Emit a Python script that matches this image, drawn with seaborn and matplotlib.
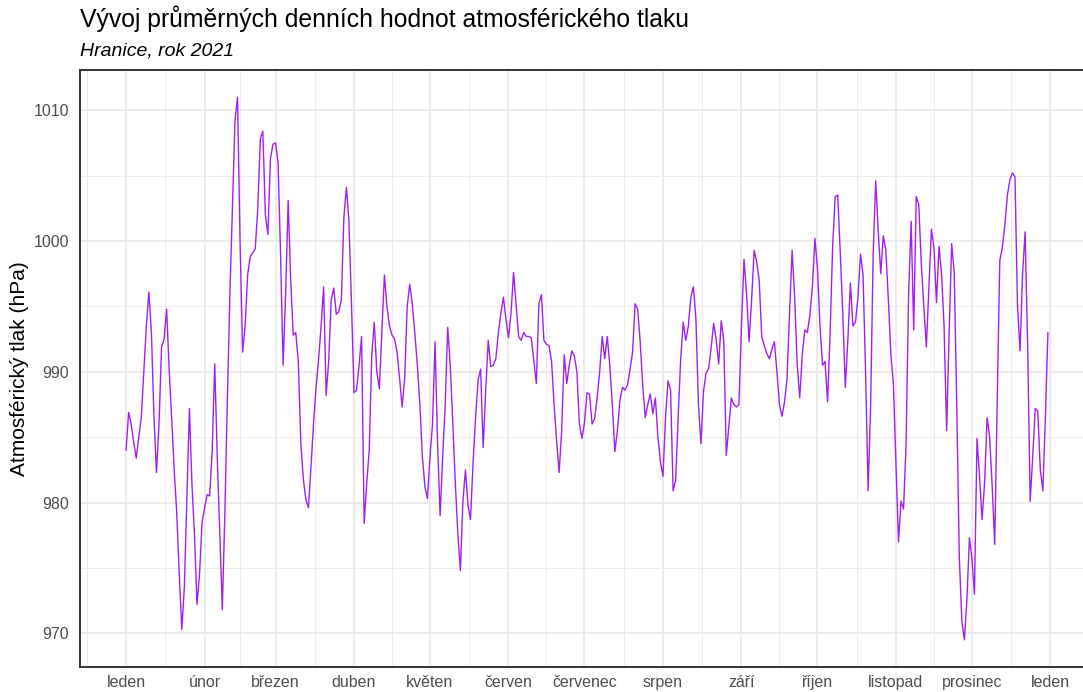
import matplotlib
matplotlib.use("Agg")
import matplotlib.pyplot as plt
import matplotlib.dates as mdates
import numpy as np
import pandas as pd
import seaborn as sns

# denni prumery tlaku (hPa), Hranice 2021, po mesicich
leden = [984.0, 986.9, 986.0, 984.6, 983.4, 985.0, 986.5, 990.0, 993.5, 996.1,
         993.0, 986.6, 982.3, 986.0, 991.9, 992.5, 994.8, 990.2, 986.5, 982.5,
         979.2, 974.5, 970.3, 973.5, 980.5, 987.2, 981.4, 977.6, 972.2, 974.5,
         978.5]
unor = [979.6, 980.6, 980.5, 984.0, 990.6, 983.5, 977.6, 971.8, 979.2, 988.0,
        996.0, 1002.5, 1009.2, 1011.0, 1000.0, 991.5, 993.5, 997.4, 998.8, 999.1,
        999.4, 1002.5, 1007.8, 1008.4, 1002.0, 1000.5, 1006.3, 1007.4]
brezen = [1007.5, 1006.0, 999.0, 990.5, 996.0, 1003.1, 997.0, 992.8, 993.0, 990.8,
          984.5, 981.8, 980.2, 979.6, 982.7, 986.0, 988.8, 990.9, 993.5, 996.5,
          988.2, 990.8, 995.5, 996.4, 994.4, 994.6, 995.5, 1001.8, 1004.1, 1001.5,
          995.2]
duben = [988.4, 988.6, 990.5, 992.7, 978.4, 981.4, 984.0, 991.2, 993.8, 990.0,
         988.7, 993.0, 997.4, 995.0, 993.5, 992.8, 992.5, 991.5, 989.5, 987.3,
         989.5, 995.0, 996.7, 995.2, 993.0, 990.5, 987.5, 983.5, 981.2, 980.3]
kveten = [983.5, 986.0, 992.3, 984.5, 979.0, 983.4, 987.5, 993.4, 990.5, 986.1,
          981.5, 977.6, 974.8, 980.1, 982.5, 979.8, 978.7, 983.0, 986.5, 989.4,
          990.2, 984.2, 988.6, 992.4, 990.4, 990.5, 991.0, 993.0, 994.5, 995.7,
          994.0]
cerven = [992.6, 994.5, 997.6, 995.2, 992.7, 992.4, 993.0, 992.7, 992.7, 992.6,
          990.8, 989.1, 995.2, 995.9, 992.4, 992.1, 992.0, 990.8, 987.5, 984.7,
          982.3, 985.5, 991.3, 989.1, 990.5, 991.6, 991.2, 990.0, 986.0, 984.9]
cervenec = [986.1, 988.4, 988.3, 986.0, 986.4, 988.0, 990.0, 992.7, 991.0, 992.7,
            990.5, 987.5, 983.9, 985.5, 987.8, 988.8, 988.6, 989.0, 990.2, 991.5,
            995.2, 994.8, 992.3, 989.0, 986.5, 987.5, 988.3, 986.8, 988.0, 985.0,
            983.1]
srpen = [982.0, 986.5, 989.3, 988.6, 980.9, 981.7, 986.5, 991.0, 993.8, 992.4,
         993.5, 995.7, 996.5, 994.1, 987.5, 984.5, 988.5, 989.9, 990.2, 991.8,
         993.7, 992.5, 990.6, 993.9, 992.4, 983.6, 985.8, 988.0, 987.5, 987.3,
         987.5]
zari = [993.5, 998.6, 996.0, 992.3, 995.5, 999.3, 998.4, 997.0, 992.7, 992.0,
        991.4, 991.0, 991.7, 992.3, 990.0, 987.5, 986.6, 987.7, 989.5, 994.6,
        999.3, 995.7, 990.6, 988.0, 991.3, 993.2, 993.0, 994.3, 996.5, 1000.2]
rijen = [997.9, 993.5, 990.5, 990.8, 987.7, 993.0, 999.6, 1003.4, 1003.5, 999.1,
         994.5, 988.8, 992.4, 996.8, 993.5, 993.8, 995.7, 999.0, 997.4, 990.0,
         980.9, 987.5, 999.0, 1004.6, 1000.7, 997.5, 1000.4, 999.3, 995.5, 991.3,
         989.0]
listopad = [983.0, 977.0, 980.1, 979.5, 984.5, 996.0, 1001.5, 993.2, 1003.4, 1002.8,
            998.3, 995.0, 991.9, 996.5, 1000.9, 999.5, 995.3, 999.6, 997.5, 993.5,
            985.5, 993.0, 999.8, 997.6, 987.5, 975.9, 971.0, 969.5, 972.5, 977.3]
prosinec = [975.7, 973.0, 984.9, 982.0, 978.7, 981.5, 986.5, 985.0, 981.2, 976.8,
            988.0, 998.5, 999.5, 1001.2, 1003.5, 1004.7, 1005.2, 1004.9, 995.0, 991.6,
            997.5, 1000.7, 992.0, 980.1, 983.5, 987.2, 987.0, 982.5, 980.9, 986.5,
            993.0]

mesice = ["leden", "únor", "březen", "duben", "květen", "červen", "červenec",
          "srpen", "září", "říjen", "listopad", "prosinec", "leden"]
y_major = [970, 980, 990, 1000, 1010]
y_minor = [975, 985, 995, 1005]

tlak = (leden + unor + brezen + duben + kveten + cerven + cervenec + srpen
        + zari + rijen + listopad + prosinec)
datum = pd.date_range("2021-01-01", periods=len(tlak), freq="D")
df = pd.DataFrame({"datum": datum, "tlak": tlak})

sns.set_style("white")
plt.rcParams["font.family"] = ["Liberation Sans", "DejaVu Sans"]

W, H = 1083, 692
fig = plt.figure(figsize=(W / 100, H / 100), dpi=100)
fig.patch.set_facecolor("white")
# panel: left 80, right 1094 (orezano), top 70, bottom 667
ax = fig.add_axes([80 / W, 25 / H, (1094 - 80) / W, (667 - 70) / H])

sns.lineplot(data=df, x="datum", y="tlak", color="#A020F0", linewidth=1.0, ax=ax)

# osa x - zacatky mesicu, minor uprostred
starts = pd.date_range("2020-12-01", "2022-02-01", freq="MS")
nums = mdates.date2num(starts)
major = nums[1:-1]
minor = (nums[:-1] + nums[1:]) / 2
ax.set_xticks(major)
ax.set_xticklabels(mesice)
ax.set_xticks(minor, minor=True)

x0, x1 = mdates.date2num(datum[0]), mdates.date2num(datum[-1])
ax.set_xlim(x0 - 0.05 * (x1 - x0), x1 + 0.05 * (x1 - x0))
y0, y1 = min(tlak), max(tlak)
ax.set_ylim(y0 - 0.05 * (y1 - y0), y1 + 0.05 * (y1 - y0))
ax.set_yticks(y_major)
ax.set_yticks(y_minor, minor=True)

ax.grid(which="major", color="#EBEBEB", linewidth=1.4)
ax.grid(which="minor", color="#EBEBEB", linewidth=0.7)
ax.set_axisbelow(True)

for s in ax.spines.values():
    s.set_visible(True)
    s.set_color("#333333")
    s.set_linewidth(1.4)

ax.tick_params(which="major", length=4.3, width=1.4, color="#333333",
               labelcolor="#4D4D4D", labelsize=11.5)
ax.tick_params(axis="x", which="major", pad=1.5)
ax.tick_params(axis="y", which="major", pad=3.5)
ax.tick_params(which="minor", length=0)

ax.set_xlabel("")
ax.set_ylabel("Atmosférický tlak (hPa)", fontsize=15, color="black")
ax.yaxis.set_label_coords((29 - 80) / (1094 - 80), 0.5)

fig.text(80 / W, 1 - 27 / H, "Vývoj průměrných denních hodnot atmosférického tlaku",
         fontsize=17.8, color="black", ha="left", va="baseline")
fig.text(80 / W, 1 - 56 / H, "Hranice, rok 2021", fontsize=14, style="italic",
         color="black", ha="left", va="baseline")

fig.savefig("out.png", dpi=100, facecolor="white")
